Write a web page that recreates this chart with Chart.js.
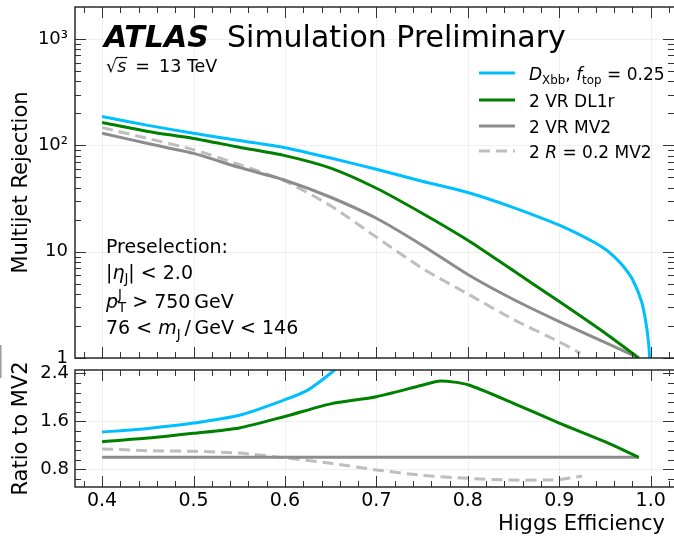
<!DOCTYPE html>
<html>
<head>
<meta charset="utf-8">
<title>Multijet rejection vs Higgs efficiency</title>
<script src="https://cdn.jsdelivr.net/npm/chart.js@4.4.1/dist/chart.umd.min.js"></script>
<style>
html,body{margin:0;padding:0;background:#fff;}
#wrap{position:relative;width:674px;height:537px;overflow:hidden;background:#fff;}
#wrap canvas{position:absolute;left:0;top:0;}
</style>
</head>
<body>
<div id="wrap">
<canvas id="mainPanel" width="674" height="537" style="width:674px;height:537px"></canvas>
<canvas id="ratioPanel" width="674" height="537" style="width:674px;height:537px"></canvas>
</div>
<script>
// ---------------- data ----------------
const seriesLabels = ['*D*_{Xbb}, *f*_{top} = 0.25', '2 VR DL1r', '2 VR MV2', '2 *R* = 0.2 MV2'];

// upper panel: multijet rejection vs Higgs efficiency
const effDxbb = [0.40, 0.45, 0.50, 0.55, 0.60, 0.65, 0.70, 0.75, 0.80, 0.85, 0.90, 0.92, 0.94, 0.95, 0.96, 0.97, 0.98, 0.99, 0.995, 0.998, 0.9988];
const rejDxbb = [187, 154, 130, 111, 95, 76, 59.5, 46, 36, 26, 17.8, 14.8, 12.0, 10.6, 9.0, 7.3, 5.5, 3.4, 2.1, 1.3, 1.0];

const effDL1r = [0.40, 0.45, 0.50, 0.55, 0.60, 0.65, 0.70, 0.75, 0.80, 0.85, 0.90, 0.95, 0.987];
const rejDL1r = [164, 135, 116, 96, 80, 61, 39.5, 23, 12.8, 6.6, 3.4, 1.72, 1.0];

const effMV2 = [0.40, 0.45, 0.50, 0.55, 0.60, 0.65, 0.70, 0.75, 0.80, 0.85, 0.90, 0.95, 0.987];
const rejMV2 = [130, 104, 84, 62, 47, 32.5, 20.6, 11.5, 6.1, 3.55, 2.2, 1.4, 1.0];

const effR02 = [0.40, 0.45, 0.50, 0.55, 0.60, 0.65, 0.70, 0.75, 0.80, 0.85, 0.90, 0.923];
const rejR02 = [147, 116, 91, 66, 46, 27, 13.7, 7.0, 4.0, 2.3, 1.42, 1.11];

// lower panel: ratio to MV2
const effRatioDxbb = [0.40, 0.45, 0.50, 0.55, 0.60, 0.625, 0.65, 0.665];
const ratioDxbb = [1.42, 1.48, 1.57, 1.70, 1.96, 2.12, 2.40, 2.60];

const effRatioDL1r = [0.40, 0.45, 0.50, 0.55, 0.60, 0.65, 0.70, 0.75, 0.77, 0.80, 0.85, 0.90, 0.95, 0.987];
const ratioDL1r = [1.26, 1.32, 1.40, 1.49, 1.68, 1.89, 2.01, 2.20, 2.27, 2.21, 1.90, 1.57, 1.26, 1.0];

const effRatioMV2 = [0.40, 0.987];
const ratioMV2 = [1.0, 1.0];

const effRatioR02 = [0.40, 0.45, 0.50, 0.55, 0.60, 0.65, 0.70, 0.75, 0.80, 0.85, 0.90, 0.925];
const ratioR02 = [1.14, 1.11, 1.10, 1.07, 0.99, 0.90, 0.79, 0.70, 0.65, 0.62, 0.63, 0.69];

// axes
const xTickValues = [0.4, 0.5, 0.6, 0.7, 0.8, 0.9, 1.0];
const xTickLabels = ['0.4', '0.5', '0.6', '0.7', '0.8', '0.9', '1.0'];
const yMainTickValues = [1, 10, 100, 1000];
const yMainTickLabels = ['1', '10', '10\u00B2', '10\u00B3'];
const yRatioTickValues = [0.8, 1.6, 2.4];
const yRatioTickLabels = ['0.8', '1.6', '2.4'];
const xMin = 0.3704, xMax = 1.0255;
const yMainMin = 1, yMainMax = 2000;
const yRatioMin = 0.505, yRatioMax = 2.455;

const annotationLines = ['Preselection:', '|*\u03B7*_{J}| < 2.0', '*p*_{T}^{J} > 750\u2009GeV', '76 < *m*_{J}\u2009/\u2009GeV < 146'];

// ---------------- styling ----------------
const FONT = '"DejaVu Sans", "Liberation Sans", sans-serif';
Chart.defaults.font.family = FONT;
Chart.defaults.color = '#000';
const colors = ['#00BFFF', '#008000', '#8c8c8c', '#bebebe'];
const dashes = [[], [], [], [11, 6]];

// minor tick values (axis structure)
const xMinor = [];
for (let k = 19; k <= 51; k++) { const v = k * 0.02; if (v > xMin && v < xMax) xMinor.push(+v.toFixed(2)); }
const yMainMinor = [];
for (let d = 1; d <= 1000; d *= 10) for (let m = 2; m <= 9; m++) { if (m * d < yMainMax) yMainMinor.push(m * d); }
const yRatioMinor = [];
for (let k = -1; k <= 10; k++) { const v = +(0.8 + 0.16 * k).toFixed(2); if (v > yRatioMin && v < yRatioMax) yRatioMinor.push(v); }

function pts(xs, ys) { return xs.map((x, i) => ({ x: x, y: ys[i] })); }
function ds(label, xs, ys, idx) {
  return {
    label: label, data: pts(xs, ys), borderColor: colors[idx], backgroundColor: colors[idx],
    borderWidth: 3, pointRadius: 0, pointHoverRadius: 0, borderDash: dashes[idx],
    tension: 0.25, fill: false, borderJoinStyle: 'round', borderCapStyle: 'butt'
  };
}

// ---------------- rich text helper ----------------
function parseRich(s) {
  const out = []; let i = 0; let buf = '';
  const flush = () => { if (buf) { out.push({ text: buf, italic: false, mode: 'n' }); buf = ''; } };
  while (i < s.length) {
    const c = s[i];
    if (c === '*') { flush(); const j = s.indexOf('*', i + 1); out.push({ text: s.slice(i + 1, j), italic: true, mode: 'n' }); i = j + 1; }
    else if (c === '!' && s[i + 1] === '{') { flush(); const j = s.indexOf('}', i + 2); out.push({ text: s.slice(i + 2, j), italic: true, mode: 'n', over: true }); i = j + 1; }
    else if ((c === '_' || c === '^') && s[i + 1] === '{') { flush(); const j = s.indexOf('}', i + 2); out.push({ text: s.slice(i + 2, j), italic: false, mode: c === '_' ? 'sub' : 'sup' }); i = j + 1; }
    else { buf += c; i++; }
  }
  flush(); return out;
}
function drawRich(ctx, str, x, y, size) {
  const toks = parseRich(str);
  let cx = x, subStart = 0, subW = 0;
  ctx.textBaseline = 'alphabetic'; ctx.textAlign = 'left';
  for (let k = 0; k < toks.length; k++) {
    const t = toks[k];
    const fs = t.mode === 'n' ? size : size * 0.7;
    ctx.font = (t.italic ? 'italic ' : '') + fs + 'px ' + FONT;
    const w = ctx.measureText(t.text).width;
    const dy = t.mode === 'sub' ? size * 0.24 : (t.mode === 'sup' ? -size * 0.45 : 0);
    const stacked = t.mode === 'sup' && k > 0 && toks[k - 1].mode === 'sub';
    const sx = stacked ? subStart : cx;
    ctx.fillText(t.text, sx, y + dy);
    if (t.over) {
      ctx.beginPath(); ctx.lineWidth = 1.2; ctx.strokeStyle = '#000';
      ctx.moveTo(sx - 1, y - size * 0.80); ctx.lineTo(sx + w + 1, y - size * 0.80); ctx.stroke();
    }
    if (stacked) { cx = subStart + Math.max(subW, w); }
    else { if (t.mode === 'sub') { subStart = sx; subW = w; } cx = sx + w; }
  }
}

// ---------------- frame / ticks / grid ----------------
function drawGrid(chart, yMajor) {
  const { ctx, chartArea: a, scales: { x, y } } = chart;
  ctx.save();
  ctx.strokeStyle = 'rgba(0,0,0,0.06)'; ctx.lineWidth = 1;
  xTickValues.forEach(v => { const p = Math.round(x.getPixelForValue(v)) + 0.5; ctx.beginPath(); ctx.moveTo(p, a.top); ctx.lineTo(p, a.bottom); ctx.stroke(); });
  yMajor.forEach(v => { const p = Math.round(y.getPixelForValue(v)) + 0.5; ctx.beginPath(); ctx.moveTo(a.left, p); ctx.lineTo(a.right, p); ctx.stroke(); });
  ctx.restore();
}
function drawFrame(chart, yMajor, yMinor) {
  const { ctx, chartArea: a, scales: { x, y } } = chart;
  ctx.save();
  ctx.strokeStyle = '#333'; ctx.lineWidth = 1;
  const seg = (x0, y0, x1, y1) => { ctx.beginPath(); ctx.moveTo(x0, y0); ctx.lineTo(x1, y1); ctx.stroke(); };
  const MAJ = 11, MIN = 6;
  xMinor.forEach(v => { const p = Math.round(x.getPixelForValue(v)) + 0.5; seg(p, a.top, p, a.top + MIN); seg(p, a.bottom, p, a.bottom - MIN); });
  xTickValues.forEach(v => { const p = Math.round(x.getPixelForValue(v)) + 0.5; seg(p, a.top, p, a.top + MAJ); seg(p, a.bottom, p, a.bottom - MAJ); });
  yMinor.forEach(v => { const p = Math.round(y.getPixelForValue(v)) + 0.5; seg(a.left, p, a.left + MIN, p); seg(a.right, p, a.right - MIN, p); });
  yMajor.forEach(v => { const p = Math.round(y.getPixelForValue(v)) + 0.5; seg(a.left, p, a.left + MAJ, p); seg(a.right, p, a.right - MAJ, p); });
  ctx.strokeStyle = '#2a2a2a'; ctx.lineWidth = 1.5;
  ctx.beginPath();
  ctx.moveTo(a.right + 2, a.top); ctx.lineTo(a.left, a.top); ctx.lineTo(a.left, a.bottom); ctx.lineTo(a.right + 2, a.bottom);
  ctx.stroke();
  ctx.restore();
}

const mainPlugin = {
  id: 'atlasMain',
  beforeDatasetsDraw(chart) { drawGrid(chart, yMainTickValues); },
  afterDatasetsDraw(chart) { drawFrame(chart, yMainTickValues, yMainMinor); },
  afterDraw(chart) {
    const ctx = chart.ctx;
    ctx.save();
    ctx.fillStyle = '#000';
    ctx.textBaseline = 'alphabetic'; ctx.textAlign = 'left';
    ctx.font = 'italic bold 30px ' + FONT;
    ctx.fillText('ATLAS', 104, 46.5);
    ctx.font = '30px ' + FONT;
    ctx.fillText('Simulation Preliminary', 227, 46.5);
    drawRich(ctx, '\u221A!{s}\u2009 = \u200913 TeV', 106, 71.5, 17.5);
    // legend
    const rows = [73, 100, 126, 151];
    chart.data.datasets.forEach((d, i) => {
      const yc = rows[i];
      ctx.save();
      ctx.strokeStyle = d.borderColor; ctx.lineWidth = 3; ctx.setLineDash(d.borderDash || []);
      ctx.beginPath(); ctx.moveTo(479, yc); ctx.lineTo(515, yc); ctx.stroke();
      ctx.restore();
      ctx.fillStyle = '#000';
      drawRich(ctx, d.label, 529, yc + 6.5, 17);
    });
    // annotation
    const base = [253, 278.5, 307.5, 334];
    annotationLines.forEach((s, i) => drawRich(ctx, s, 106, base[i], 19));
    ctx.restore();
  }
};

const ratioPlugin = {
  id: 'atlasRatio',
  beforeDatasetsDraw(chart) { drawGrid(chart, yRatioTickValues); },
  afterDatasetsDraw(chart) { drawFrame(chart, yRatioTickValues, yRatioMinor); },
  afterDraw(chart) {
    const ctx = chart.ctx;
    ctx.save();
    ctx.fillStyle = '#000';
    ctx.font = '21px ' + FONT;
    ctx.textAlign = 'right'; ctx.textBaseline = 'alphabetic';
    ctx.fillText('Higgs Efficiency', 665, 530);
    ctx.fillStyle = '#9a9a9a';
    ctx.fillRect(0, 345, 1.5, 33);
    ctx.restore();
  }
};

// ---------------- charts ----------------
new Chart(document.getElementById('mainPanel'), {
  type: 'line',
  data: {
    datasets: [
      ds(seriesLabels[0], effDxbb, rejDxbb, 0),
      ds(seriesLabels[1], effDL1r, rejDL1r, 1),
      ds(seriesLabels[2], effMV2, rejMV2, 2),
      ds(seriesLabels[3], effR02, rejR02, 3)
    ]
  },
  options: {
    responsive: false, animation: false, devicePixelRatio: 1,
    layout: { padding: { left: 0, right: 0, top: 7, bottom: 179 } },
    plugins: { legend: { display: false }, tooltip: { enabled: false } },
    scales: {
      x: {
        type: 'linear', min: xMin, max: xMax,
        ticks: { display: false }, grid: { display: false, drawTicks: false }, border: { display: false },
        afterFit: s => { s.height = 0; s.paddingLeft = 0; s.paddingRight = 0; }
      },
      y: {
        type: 'logarithmic', min: yMainMin, max: yMainMax,
        afterBuildTicks: s => { s.ticks = yMainTickValues.map(v => ({ value: v })); },
        ticks: { autoSkip: false, padding: 7, font: { size: 18 }, callback: (v, i) => yMainTickLabels[i] },
        grid: { display: false, drawTicks: false }, border: { display: false },
        title: { display: true, text: 'Multijet Rejection', font: { size: 21 }, padding: { top: 9, bottom: 0 } },
        afterFit: s => { s.width = 75; s.paddingTop = 0; s.paddingBottom = 0; }
      }
    }
  },
  plugins: [mainPlugin]
});

new Chart(document.getElementById('ratioPanel'), {
  type: 'line',
  data: {
    datasets: [
      ds(seriesLabels[0], effRatioDxbb, ratioDxbb, 0),
      ds(seriesLabels[1], effRatioDL1r, ratioDL1r, 1),
      ds(seriesLabels[2], effRatioMV2, ratioMV2, 2),
      ds(seriesLabels[3], effRatioR02, ratioR02, 3)
    ]
  },
  options: {
    responsive: false, animation: false, devicePixelRatio: 1,
    layout: { padding: { left: 0, right: 0, top: 370, bottom: 0 } },
    plugins: { legend: { display: false }, tooltip: { enabled: false } },
    scales: {
      x: {
        type: 'linear', min: xMin, max: xMax,
        afterBuildTicks: s => { s.ticks = xTickValues.map(v => ({ value: v })); },
        ticks: { autoSkip: false, maxRotation: 0, padding: 3, font: { size: 19 }, callback: (v, i) => xTickLabels[i] },
        grid: { display: false, drawTicks: false }, border: { display: false },
        afterFit: s => { s.height = 50; s.paddingLeft = 0; s.paddingRight = 0; }
      },
      y: {
        type: 'linear', min: yRatioMin, max: yRatioMax,
        afterBuildTicks: s => { s.ticks = yRatioTickValues.map(v => ({ value: v })); },
        ticks: { autoSkip: false, padding: 6, font: { size: 18 }, callback: (v, i) => yRatioTickLabels[i] },
        grid: { display: false, drawTicks: false }, border: { display: false },
        title: { display: true, text: 'Ratio to MV2', font: { size: 21 }, padding: { top: 9, bottom: 0 } },
        afterFit: s => { s.width = 75; s.paddingTop = 0; s.paddingBottom = 0; }
      }
    }
  },
  plugins: [ratioPlugin]
});
</script>
</body>
</html>
